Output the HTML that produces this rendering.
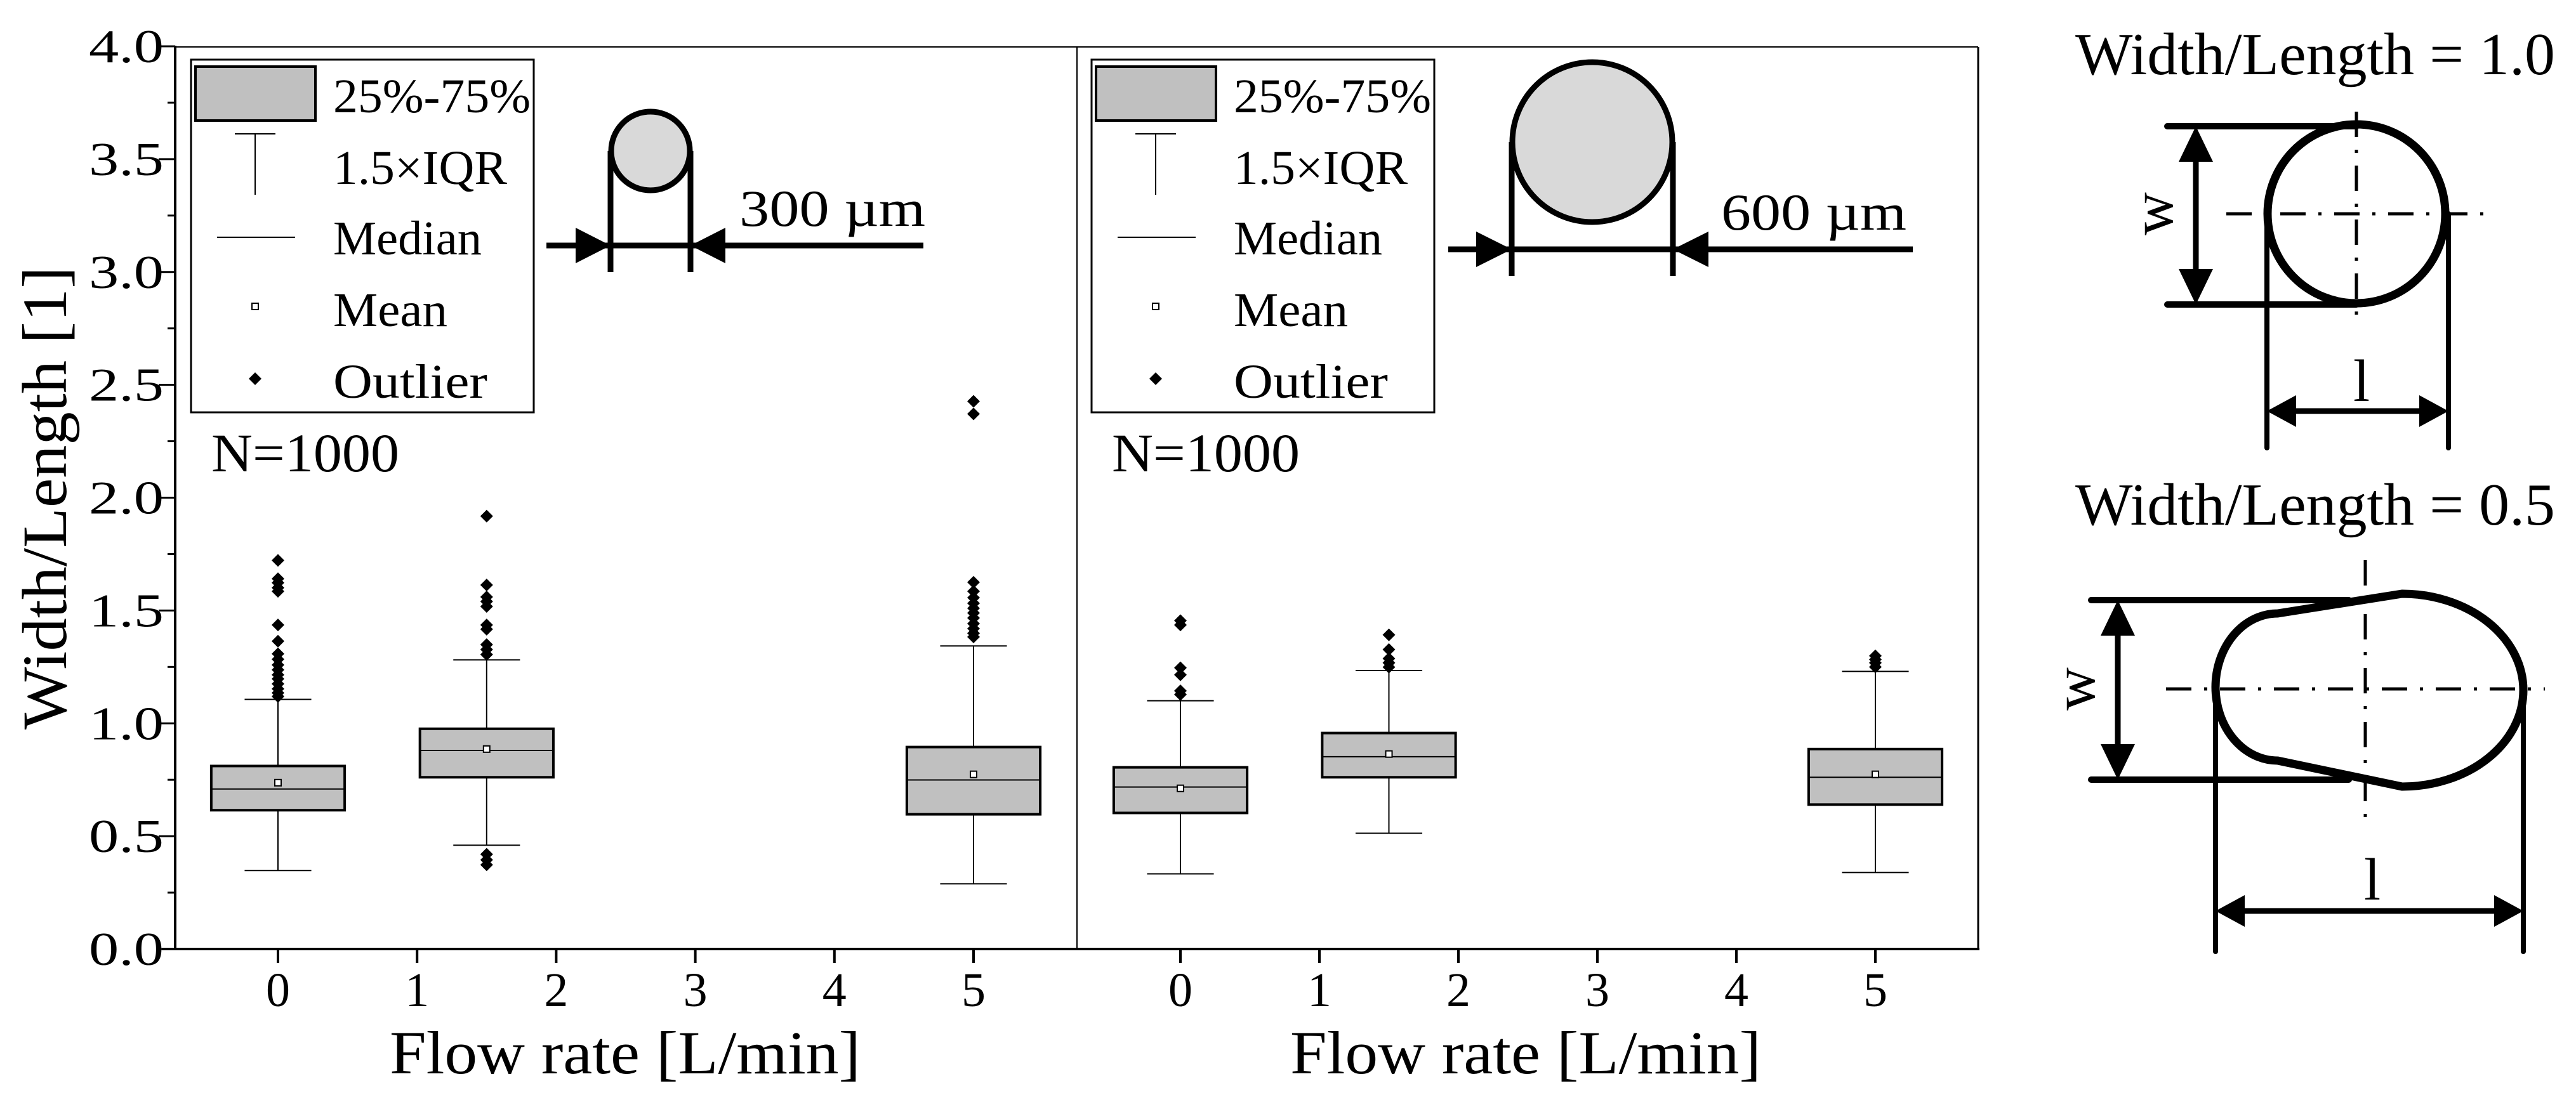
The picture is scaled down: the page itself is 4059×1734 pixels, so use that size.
<!DOCTYPE html>
<html><head><meta charset="utf-8"><style>
html,body{margin:0;padding:0;background:#fff;}
svg{display:block;font-family:"Liberation Serif",serif;}
</style></head><body>
<svg id="fig" xmlns="http://www.w3.org/2000/svg" width="4059" height="1734" viewBox="0 0 4059 1734">
<g id="plot"></g>
<g id="insets"></g>
</svg>
<script>
// ---- data ----
const categories=[0,1.5,5];
const xTicks=[0,1,2,3,4,5];
const yTicks=[0,0.5,1,1.5,2,2.5,3,3.5,4];
const yTickLabels=["0.0","0.5","1.0","1.5","2.0","2.5","3.0","3.5","4.0"];
const leftQ1=[0.615,0.761,0.597];
const leftQ3=[0.811,0.976,0.895];
const leftMed=[0.709,0.880,0.749];
const leftMean=[0.737,0.886,0.774];
const leftLo=[0.348,0.460,0.289];
const leftHi=[1.106,1.281,1.343];
const leftOut0=[1.722,1.641,1.623,1.601,1.585,1.436,1.364,1.308,1.284,1.259,1.237,1.215,1.197,1.175,1.153,1.135,1.119];
const leftOut1=[1.918,1.613,1.560,1.540,1.518,1.436,1.417,1.349,1.327,1.305,0.420,0.395,0.373];
const leftOut5=[2.427,2.371,1.625,1.585,1.557,1.532,1.510,1.489,1.467,1.442,1.420,1.399,1.383];
const rightQ1=[0.603,0.761,0.640];
const rightQ3=[0.805,0.957,0.886];
const rightMed=[0.718,0.852,0.761];
const rightMean=[0.712,0.864,0.774];
const rightLo=[0.333,0.513,0.339];
const rightHi=[1.100,1.234,1.230];
const rightOut0=[1.455,1.436,1.246,1.215,1.144,1.128];
const rightOut1=[1.392,1.327,1.287,1.268,1.249];
const rightOut5=[1.299,1.283,1.268,1.250];

const NS="http://www.w3.org/2000/svg";
const plot=document.getElementById('plot');
const ins=document.getElementById('insets');
function el(parent,tag,attrs,text){const e=document.createElementNS(NS,tag);for(const k in attrs)e.setAttribute(k,attrs[k]);if(text!==undefined)e.textContent=text;parent.appendChild(e);return e;}
const yS=v=>1496-v*355.75;
const xL=v=>438+v*219.2;
const xR=v=>1860+v*219;

// frame
let e;
e=el(plot,'line',{x1:276,y1:74,x2:3117,y2:74,stroke:'#000','stroke-width':2});


e=el(plot,'line',{x1:3117,y1:74,x2:3117,y2:1498,stroke:'#000','stroke-width':3});


e=el(plot,'line',{x1:1697,y1:74,x2:1697,y2:1496,stroke:'#000','stroke-width':2});


e=el(plot,'line',{x1:276,y1:72,x2:276,y2:1498,stroke:'#000','stroke-width':4});


e=el(plot,'line',{x1:255,y1:1496,x2:3119,y2:1496,stroke:'#000','stroke-width':4});



// y ticks
for(let i=0;i<yTicks.length;i++){
  const y=yS(yTicks[i]);
  e=el(plot,'line',{x1:250,y1:y,x2:276,y2:y,stroke:'#000','stroke-width':3});
  
  
  if(i<yTicks.length-1){
    const ym=yS(yTicks[i]+0.25);
    e=el(plot,'line',{x1:264,y1:ym,x2:276,y2:ym,stroke:'#000','stroke-width':3});
    
    
  }
  e=el(plot,'text',{x:140,y:y+25,'font-size':74,textLength:118,lengthAdjust:'spacingAndGlyphs'},yTickLabels[i]);
  
  
}
e=el(plot,'text',{x:0,y:0,'font-size':100,'text-anchor':'middle',textLength:730,lengthAdjust:'spacingAndGlyphs',transform:'translate(104,785) rotate(-90)'},'Width/Length [1]');



function panel(xs,Q1,Q3,Med,Mean,Lo,Hi,outs,name,lx,labelL){
  for(const t of xTicks){
    e=el(plot,'line',{x1:xs(t),y1:1496,x2:xs(t),y2:1518,stroke:'#000','stroke-width':4});
    
    
    e=el(plot,'text',{x:xs(t),y:1586,'font-size':76,'text-anchor':'middle'},String(t));
    
    
  }
  e=el(plot,'text',{x:labelL,y:1692,'font-size':96,textLength:742,lengthAdjust:'spacingAndGlyphs'},'Flow rate [L/min]');
  
  
  for(let i=0;i<categories.length;i++){
    const c=categories[i],cx=xs(c),hw=0.48*219,cw=0.24*219;
    const g=el(plot,'g',{});
    
    
    el(g,'line',{x1:cx,y1:yS(Hi[i]),x2:cx,y2:yS(Lo[i]),stroke:'#000','stroke-width':2});
    el(g,'line',{x1:cx-cw,y1:yS(Hi[i]),x2:cx+cw,y2:yS(Hi[i]),stroke:'#000','stroke-width':2});
    el(g,'line',{x1:cx-cw,y1:yS(Lo[i]),x2:cx+cw,y2:yS(Lo[i]),stroke:'#000','stroke-width':2});
    el(g,'rect',{x:cx-hw,y:yS(Q3[i]),width:2*hw,height:yS(Q1[i])-yS(Q3[i]),fill:'#c0c0c0',stroke:'#000','stroke-width':4});
    el(g,'line',{x1:cx-hw,y1:yS(Med[i]),x2:cx+hw,y2:yS(Med[i]),stroke:'#000','stroke-width':2});
    el(g,'rect',{x:cx-5,y:yS(Mean[i])-5,width:10,height:10,fill:'#fff',stroke:'#000','stroke-width':2});
    for(const o of outs[i]){
      const y=yS(o);
      e=el(g,'path',{d:`M${cx} ${y-10} L${cx+10} ${y} L${cx} ${y+10} L${cx-10} ${y} Z`,fill:'#000'});
      
      
    }
  }
  // legend
  const lg=el(plot,'g',{});
  
  
  const o=lx;
  el(lg,'rect',{x:o,y:94,width:540,height:556,fill:'#fff',stroke:'#000','stroke-width':3});
  el(lg,'rect',{x:o+7,y:105,width:189,height:85,fill:'#c0c0c0',stroke:'#000','stroke-width':4});
  const sx=o+101;
  el(lg,'line',{x1:sx-32,y1:211,x2:sx+32,y2:211,stroke:'#000','stroke-width':2});
  el(lg,'line',{x1:sx,y1:211,x2:sx,y2:307,stroke:'#000','stroke-width':2});
  el(lg,'line',{x1:o+41,y1:374,x2:o+164,y2:374,stroke:'#000','stroke-width':2});
  el(lg,'rect',{x:sx-5,y:478,width:10,height:10,fill:'#fff',stroke:'#000','stroke-width':2});
  el(lg,'path',{d:`M${sx} 587 L${sx+10} 597 L${sx} 607 L${sx-10} 597 Z`,fill:'#000'});
  const labels=['25%-75%','1.5×IQR','Median','Mean','Outlier'];
  const ys=[177,290,401,514,627];
  const ws=[311,274,234,180,243];
  for(let k=0;k<5;k++){
    e=el(lg,'text',{x:o+224,y:ys[k],'font-size':76,textLength:ws[k],lengthAdjust:'spacingAndGlyphs'},labels[k]);
    
    
  }
  e=el(plot,'text',{x:o+32,y:743,'font-size':86,textLength:296,lengthAdjust:'spacingAndGlyphs'},'N=1000');
  
  
}
panel(xL,leftQ1,leftQ3,leftMed,leftMean,leftLo,leftHi,[leftOut0,leftOut1,leftOut5],'left',301,614);
panel(xR,rightQ1,rightQ3,rightMed,rightMean,rightLo,rightHi,[rightOut0,rightOut1,rightOut5],'right',1720,2033);

// particle insets
function particle(name,cx,cy,r,xa,xb,ly,x0,x1,ah,label,tx,tw){
  const g=el(ins,'g',{});
  
  
  el(g,'line',{x1:xa,y1:cy,x2:xa,y2:ly+42,stroke:'#000','stroke-width':9});
  el(g,'line',{x1:xb,y1:cy,x2:xb,y2:ly+42,stroke:'#000','stroke-width':9});
  el(g,'circle',{cx:cx,cy:cy,r:r,fill:'#d9d9d9',stroke:'#000','stroke-width':9});
  el(g,'line',{x1:x0,y1:ly,x2:x1,y2:ly,stroke:'#000','stroke-width':9});
  el(g,'path',{d:`M${xa} ${ly} L${xa-ah} ${ly-28} L${xa-ah} ${ly+28} Z`,fill:'#000'});
  el(g,'path',{d:`M${xb} ${ly} L${xb+ah} ${ly-28} L${xb+ah} ${ly+28} Z`,fill:'#000'});
  e=el(g,'text',{x:tx,y:ly-31,'font-size':82,textLength:tw,lengthAdjust:'spacingAndGlyphs'},label);
  
  
}
particle('inset-300um',1025,238,62,962,1088,387,861,1455,55,'300 µm',1165,293);
particle('inset-600um',2509,224,126,2382,2636,393,2282,3014,56,'600 µm',2712,292);

// shape diagrams
function dd(g,x1,y1,x2,y2){el(g,'line',{x1:x1,y1:y1,x2:x2,y2:y2,stroke:'#000','stroke-width':5,'stroke-dasharray':'40 20 5 20'});}
function diagram(name,title,ty,shape,hl,hr,ytop,ybot,ax,wx,dcy,dx0,dx1,vcx,vy0,vy1,exa,exb,ey0,ey1,ly,lcx,lby){
  const g=el(ins,'g',{});
  
  
  e=el(g,'text',{x:3270,y:ty,'font-size':94,textLength:756,lengthAdjust:'spacingAndGlyphs'},title);
  
  
  el(g,'line',{x1:hl,y1:ytop,x2:hr,y2:ytop,stroke:'#000','stroke-width':10,'stroke-linecap':'round'});
  el(g,'line',{x1:hl,y1:ybot,x2:hr,y2:ybot,stroke:'#000','stroke-width':10,'stroke-linecap':'round'});
  el(g,'line',{x1:ax,y1:ytop+50,x2:ax,y2:ybot-50,stroke:'#000','stroke-width':9});
  el(g,'path',{d:`M${ax} ${ytop} L${ax-27} ${ytop+56} L${ax+27} ${ytop+56} Z`,fill:'#000'});
  el(g,'path',{d:`M${ax} ${ybot} L${ax-27} ${ybot-56} L${ax+27} ${ybot-56} Z`,fill:'#000'});
  e=el(g,'text',{x:0,y:0,'font-size':94,'text-anchor':'middle',transform:`translate(${wx+22},${dcy}) rotate(-90)`},'w');
  
  
  el(g,'line',{x1:exa,y1:ey0,x2:exa,y2:ey1,stroke:'#000','stroke-width':8,'stroke-linecap':'round'});
  el(g,'line',{x1:exb,y1:ey0,x2:exb,y2:ey1,stroke:'#000','stroke-width':8,'stroke-linecap':'round'});
  el(g,'path',shape);
  dd(g,dx0,dcy,dx1,dcy);
  dd(g,vcx,vy0,vcx,vy1);
  el(g,'line',{x1:exa+40,y1:ly,x2:exb-40,y2:ly,stroke:'#000','stroke-width':9});
  el(g,'path',{d:`M${exa} ${ly} L${exa+46} ${ly-25} L${exa+46} ${ly+25} Z`,fill:'#000'});
  el(g,'path',{d:`M${exb} ${ly} L${exb-46} ${ly-25} L${exb-46} ${ly+25} Z`,fill:'#000'});
  e=el(g,'text',{x:lcx,y:lby,'font-size':94,'text-anchor':'middle'},'l');
  
  
}
diagram('diagram-round','Width/Length = 1.0',117,{d:'M3573 337 A140 141 0 1 1 3853 337 A140 141 0 1 1 3573 337 Z',fill:'none',stroke:'#000','stroke-width':13},
  3415,3713,199,480,3460,3401,337,3508,3928,3713,176,502,3572,3858,337,706,648,3721,632);
diagram('diagram-elongated','Width/Length = 0.5',827,{d:'M3589 967 L3785 936 A191 152 0 0 1 3785 1240 L3589 1199 A98 116 0 0 1 3589 967 Z',fill:'none',stroke:'#000','stroke-width':13},
  3295,3701,946,1229,3337,3278,1086,3413,4010,3727,883,1306,3491,3976,1107,1500,1436,3738,1418);
</script>
</body></html>
